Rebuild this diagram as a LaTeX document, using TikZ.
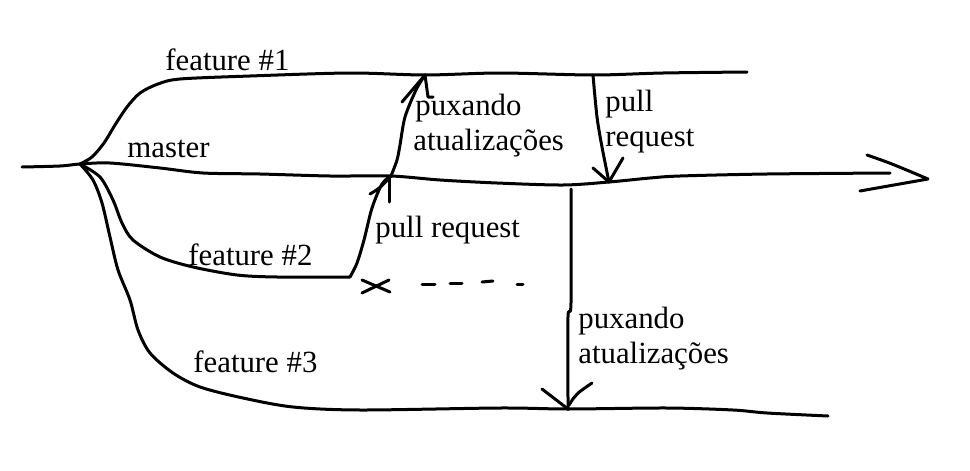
\documentclass[tikz,border=0pt]{standalone}
\usepackage{fontspec}
\setmainfont{Liberation Serif}
\begin{document}
\begin{tikzpicture}[x=0.5pt,y=-0.5pt,
  pen/.style={line width=1.5pt, line cap=round, line join=round},
  lbl/.style={anchor=base west, inner sep=0pt, font=\fontsize{15.4}{17.5}\selectfont}]
\useasboundingbox (0,0) rectangle (970,471);
% key points
\coordinate (start) at (22,167);
\coordinate (O) at (80,164);
\coordinate (mA) at (391,176);
\coordinate (f1A) at (425,75);
\coordinate (f1B) at (593,75);
\coordinate (mB) at (609,182);
\coordinate (mC) at (571,189);
\coordinate (f3A) at (568,409);
\coordinate (f2E) at (350,277);
\coordinate (mEnd) at (890,173);
\coordinate (tip) at (928,179);
% master
\draw[pen] plot[smooth, tension=0.5] coordinates {(start) (60,166) (O) (110,163) (160,168) (203,173) (260,174) (330,176) (mA) (440,180) (497,183) (563,185) (mB) (650,178) (680,176) (767,174) (mEnd)};
\draw[pen] (867,155) .. controls (890,163) .. (tip) -- (860,191);
% feature 1
\draw[pen] plot[smooth, tension=0.5] coordinates {(O) (92,157) (104,143) (115,125) (127,107) (140,93) (158,84) (180,79) (250,76) (350,73) (f1A) (500,73) (f1B) (663,73) (747,72)};
% feature 2
\draw[pen] plot[smooth, tension=0.5] coordinates {(O) (100,177) (113,200) (122,223) (133,240) (160,257) (193,267) (237,275) (277,277) (f2E)};
% feature 3
\draw[pen] plot[smooth, tension=0.5] coordinates {(O) (93,180) (102,203) (110,237) (118,270) (130,300) (138,330) (150,353) (173,373) (200,387) (243,398) (293,407) (360,410) (500,408) (f3A) (667,408) (733,410) (767,413) (828,416)};
% pull request feature 2 -> master
\draw[pen] plot[smooth, tension=0.5] coordinates {(f2E) (357,263) (364,240) (372,208) (382,184) (mA)};
\draw[pen] (370,194) .. controls (380,188) .. (mA);
\draw[pen] (389,178) -- (389,202);
% puxando master -> feature 1
\draw[pen] plot[smooth, tension=0.5] coordinates {(mA) (397,160) (400,145) (405,117) (416,90) (f1A)};
\draw[pen] (402,102) -- (f1A);
\draw[pen] (f1A) -- (428,97) -- (433,97);
% pull request feature 1 -> master
\draw[pen] plot[smooth, tension=0.5] coordinates {(f1B) (597,117) (602,147) (mB)};
\draw[pen] (593,168) -- (mB) -- (623,158);
% puxando master -> feature 3
\draw[pen] plot[smooth, tension=0.5] coordinates {(mC) (571,303) (568,317) (568,400) (f3A)};
\draw[pen] (542,389) -- (f3A);
\draw[pen] (592,383) .. controls (576,394) .. (569,405);
% abandoned feature 2
\draw[pen] (362,280) -- (390,292);
\draw[pen] (362,293) -- (389,280);
\draw[pen] (422,284) -- (435,284);
\draw[pen] (450,283) -- (462,283);
\draw[pen] (482,282) -- (493,281);
\draw[pen] (517,284) -- (523,284);
% labels
\node[lbl] (tf1) at (165,70) {feature \#1};
\node[lbl] (tm) at (127,157) {master};
\node[lbl] (tf2) at (188,265) {feature \#2};
\node[lbl] (tf3) at (193,372) {feature \#3};
\node[lbl] (tpr2) at (375,237) {pull request};
\node[lbl] (tpx1a) at (415,115) {puxando};
\node[lbl] (tpx1b) at (413,150) {atualizações};
\node[lbl] (tpr1a) at (605,112) {pull};
\node[lbl] (tpr1b) at (605,146) {request};
\node[lbl] (tpx3a) at (578,328) {puxando};
\node[lbl] (tpx3b) at (578,363) {atualizações};
\end{tikzpicture}
\end{document}
